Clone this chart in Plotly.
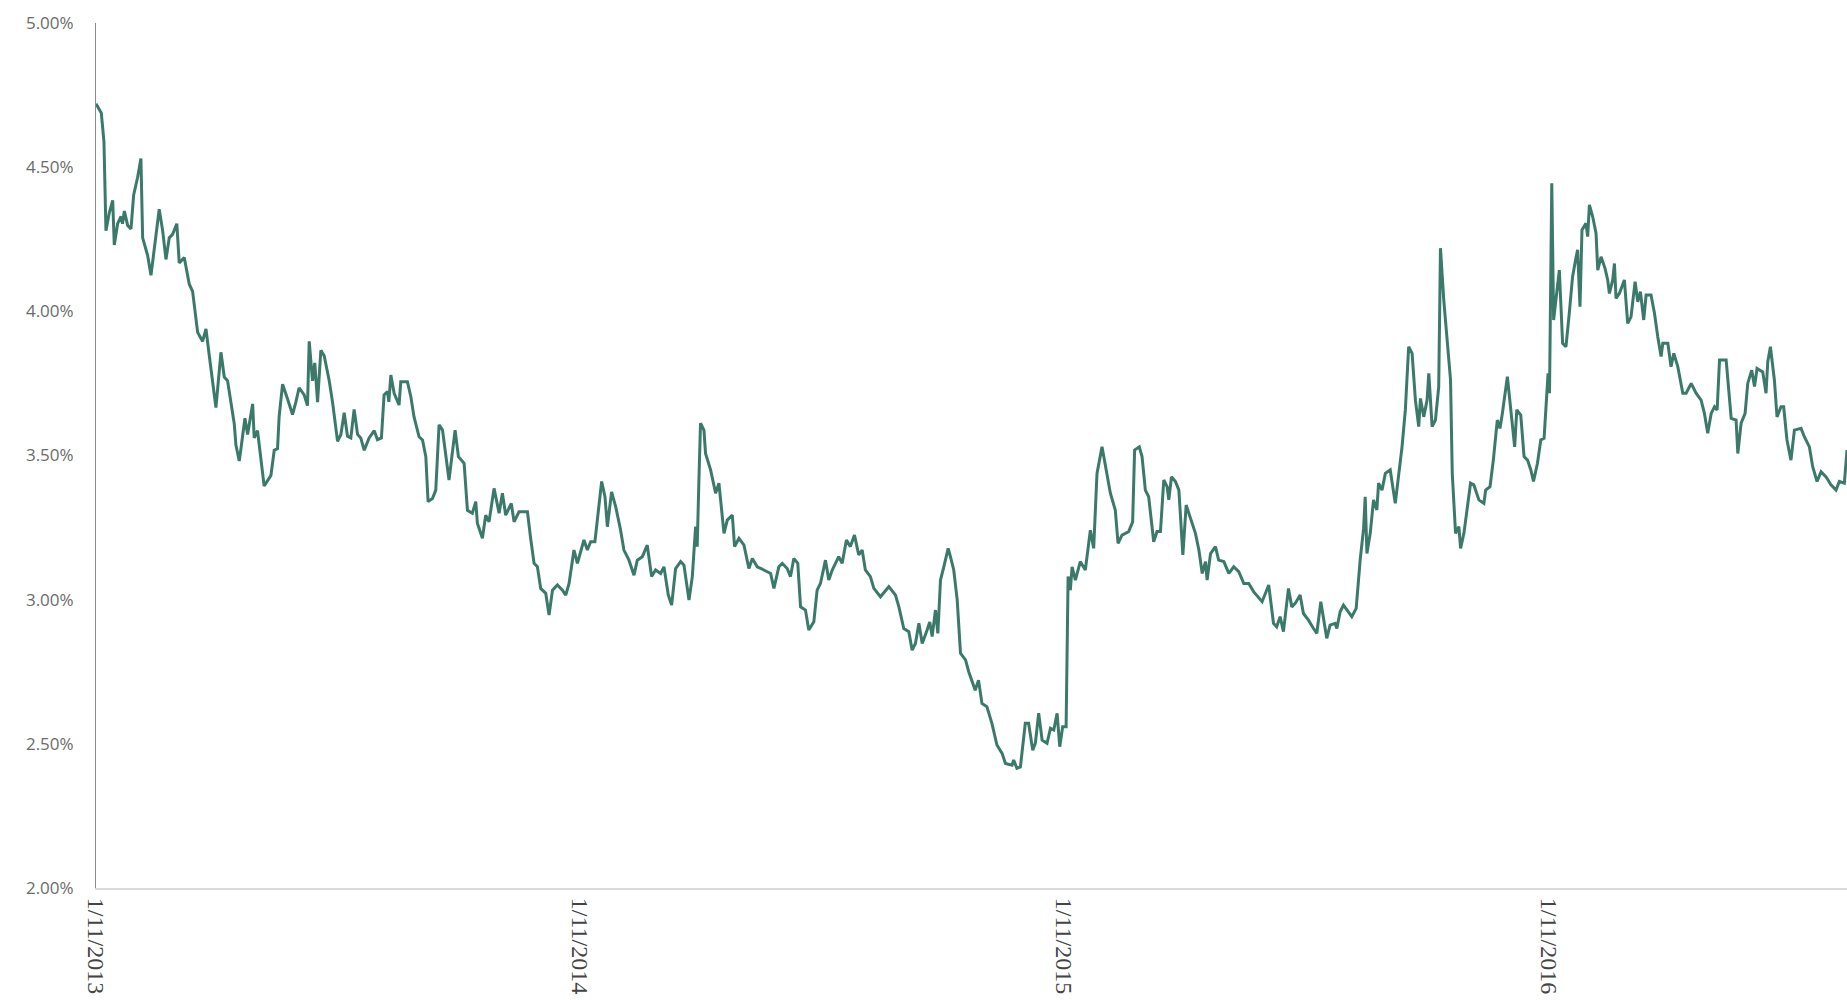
import pandas as pd
import plotly.graph_objects as go

# Dates are stored as day offsets from the first tick date (1/11/2013)
start_date = "2013-11-01"

days = [
    0, 4, 6, 7.5, 10, 12.6, 13.8, 16.3, 18.9, 20, 21.4, 23.9, 26.4, 28.4, 31.4, 33.9, 35.2, 39, 41.5, 45.2,
    47.7, 50.3, 52.8, 55.3, 57.8, 61, 62.8, 66.6, 70.4, 72.9, 76.7, 80.4, 83, 85.5, 90.5, 94.3, 96.8, 99.3,
    104.3, 105.6, 108.1, 109.4, 112.4, 114.4, 118.2, 119.4, 121.9, 126.9, 132, 134.5, 137, 138.2, 140.8,
    144.5, 148.3, 150.8, 153.3, 157.1, 159.6, 160.9, 163.4, 165.1, 167.2, 169.7, 172.2, 176, 178.5, 182.3,
    184.8, 187.3, 189.8, 192.3, 194.8, 197.4, 199.8, 202.4, 206.1, 210, 212.4, 215.4, 217.4, 220,
    221, 222.5, 225, 228.7, 230, 235, 237.6, 240, 243.8, 246.4, 248.9, 250.6, 253.9, 256.4, 258.9, 261.5,
    266.4, 271, 273.5, 277.8, 280.3, 284, 286.6, 287.8, 291.6, 294.1, 296.6, 300.4, 304.2, 306.7, 309.2,
    313.4, 315.5, 319.2, 325.6, 328, 330.6, 333.1, 335.6, 339.4, 341.9, 344.5, 348.2, 352, 354.5, 357,
    360.7, 363.3, 365.8, 368.2, 370.8, 373.3, 376.5, 379.6, 381.6, 384.1, 385.9, 389.1, 392.2, 395.9,
    398.4, 402.2, 406, 408.5, 412.3, 416, 419.3, 422.3, 426.1, 428.6, 431.9, 434.4, 437.4,
    441.2, 443.7, 447.5, 450, 452.5, 453.7, 455, 456.2, 458.8, 460, 463.8, 467.6, 470.1, 473.9, 476.4,
    480.2, 481.9, 485.2, 489, 492.7, 495.3, 499, 504, 509.1, 511.6, 515.3, 517.9, 521.6, 524.1, 526.6,
    529.6, 531.7, 535.4, 537.9, 541.7, 544.2, 546.7, 550.5, 553, 555.6, 560.5, 563.1, 566.3, 569.3,
    572.4, 575.6, 578.2, 580.6, 584.4, 587, 592, 598.3, 603.3, 605.9, 609.6, 613.4, 615.9, 618.4, 621,
    623.5, 627.2, 629.2, 631, 633.5, 635.3, 637.3, 639.8, 643.1, 644.8, 647.3, 649.9, 652.4, 656.2, 658.6,
    663.5, 666, 668.6, 672.3, 676.1, 679.9, 683.8, 686.3, 691.3, 692.5, 695, 697.6, 701.3, 703.8, 706.9,
    708.9, 711.4, 714, 717.7, 720.3, 722.8, 725.3, 727.3, 729.5, 732.1, 733.6, 735.3, 736.6, 739.1,
    742.8, 746.6, 750.4, 752.9, 755.4, 759.2, 763, 765.5, 769.2, 771.3, 774.3, 779.3, 782.3, 783.8,
    787.3, 789.4, 791.9, 794.4, 798.2, 800.7, 803.3, 805.8, 808.3, 809.6, 811.6, 814.6, 817.2, 820.2,
    822.7, 824.7, 827.3, 829.7, 832.3, 834.8, 837.3, 838.5, 841.1, 844.8, 847.2, 851.1, 854.9, 858.6,
    862.4, 866.2, 869.9, 873.7, 880, 885,
    888.6, 891, 893.6, 896.1, 899.9, 902.4, 905, 908.7, 911.2, 915, 918.8, 921.3, 924.3, 926.3, 928.8,
    931.3, 935.1, 936.4, 938.9, 941.4, 944, 947.7, 951, 954, 956.6, 957.8, 959.1, 961.6, 964.1, 966.6,
    967.9, 970.5, 973, 976.7, 980.5, 983, 985.6, 988.1, 990.6, 993.2, 995.7, 998.2, 999.5, 1002, 1004.5,
    1005.8, 1008.3, 1010.8, 1013.3, 1014.6, 1017.1, 1022.2, 1023.5, 1026, 1028.5, 1029.8, 1032.3, 1037.3,
    1039.8, 1043.6, 1047.4, 1048.7, 1052, 1054.5, 1057.5, 1059.5, 1061.3, 1065.1, 1067.6, 1070.6, 1072.2,
    1075.2, 1077.7, 1080.3, 1082.8, 1084.8, 1087.8, 1090.3, 1092.8, 1094.1, 1095.8,
    1096.9, 1098.6, 1100, 1101.8, 1104.3, 1106.8, 1109.3, 1111.8, 1114.3, 1116.8, 1118.1, 1119.9, 1121.4,
    1124.4, 1125.7, 1127, 1129.5, 1132, 1133.3, 1135.8, 1138.8, 1140.8, 1142.1, 1144.6, 1145.9, 1147.1,
    1149.6, 1153.4, 1155.9, 1158.4, 1161.5, 1163.5, 1165.5, 1168, 1169.8, 1173.5, 1176.1, 1178.6, 1181.1,
    1182.4, 1186.2, 1188.6, 1190.7, 1193.7, 1197.5, 1200, 1203.8, 1207.5, 1211.3, 1213.8, 1216.3, 1218.9,
    1221.4, 1223.4, 1225.2, 1230.2, 1232.7, 1234, 1237.7, 1239, 1241.5, 1244.5, 1246.5, 1249.5, 1251.6,
    1253.5, 1257.8, 1260.3, 1261.6, 1263.6, 1266.6, 1268.6, 1271.6, 1273.6, 1276.1, 1279.1, 1281.7,
    1286.7, 1289.2, 1293, 1295.5, 1298.8, 1301.8, 1305.6, 1309.3, 1313.1, 1315.6, 1319.4, 1321.4,
]

yields = [
    4.72, 4.688, 4.589, 4.280, 4.341, 4.385, 4.230, 4.304, 4.329, 4.304, 4.348, 4.298, 4.286, 4.403, 4.465,
    4.530, 4.255, 4.193, 4.125, 4.255, 4.354, 4.280, 4.180, 4.255, 4.267, 4.304, 4.168, 4.187, 4.094, 4.069,
    3.927, 3.896, 3.939, 3.846, 3.666, 3.858, 3.772, 3.759, 3.611, 3.536, 3.481, 3.524, 3.629, 3.573, 3.679,
    3.561, 3.586, 3.394, 3.431, 3.518, 3.524, 3.635, 3.747, 3.697, 3.642, 3.685, 3.735, 3.710, 3.673, 3.896,
    3.759, 3.821, 3.685, 3.865, 3.846, 3.759, 3.685, 3.549, 3.573, 3.648, 3.567, 3.561, 3.660, 3.573, 3.561,
    3.518, 3.561, 3.586, 3.555, 3.561, 3.710, 3.722,
    3.686, 3.779, 3.716, 3.675, 3.756, 3.756, 3.704, 3.634, 3.565, 3.554, 3.496, 3.34, 3.351, 3.38, 3.606,
    3.588, 3.415, 3.588, 3.496, 3.473, 3.31, 3.30, 3.34, 3.265, 3.213, 3.293, 3.27, 3.386, 3.30, 3.369,
    3.293, 3.334, 3.27, 3.305, 3.305, 3.213, 3.126, 3.114, 3.039, 3.022, 2.947, 3.033, 3.051, 3.033, 3.016,
    3.056, 3.172, 3.126, 3.172, 3.207, 3.172, 3.201, 3.201, 3.322, 3.41, 3.357, 3.253, 3.374, 3.322, 3.241,
    3.172, 3.137, 3.085, 3.137, 3.149, 3.189, 3.08, 3.103, 3.091, 3.114, 3.016, 2.981, 3.108,
    3.132, 3.12, 2.999, 3.08, 3.253, 3.184, 3.415, 3.612, 3.588, 3.507, 3.45, 3.369, 3.404, 3.23, 3.276,
    3.293, 3.184, 3.213, 3.189, 3.108, 3.143, 3.114, 3.103, 3.091, 3.039, 3.114, 3.126, 3.108, 3.08, 3.143,
    3.126, 2.975, 2.964, 2.895, 2.923, 3.033, 3.056, 3.137, 3.068, 3.103, 3.149, 3.126, 3.207, 3.184,
    3.224, 3.155, 3.172, 3.103, 3.08, 3.039, 3.01, 3.045, 3.016, 2.975, 2.90, 2.889, 2.825, 2.848, 2.918,
    2.848, 2.895, 2.923, 2.872, 2.964, 2.883, 3.068, 3.114, 3.178, 3.149, 3.103, 2.999, 2.814, 2.791, 2.75,
    2.686, 2.721, 2.64, 2.629, 2.571, 2.496, 2.467, 2.432, 2.426, 2.444, 2.415, 2.42, 2.571, 2.571, 2.478,
    2.502, 2.606, 2.513, 2.502, 2.554, 2.548, 2.606, 2.49, 2.559, 2.559, 3.08, 3.033, 3.114, 3.068,
    3.132, 3.103, 3.241, 3.178, 3.438, 3.53, 3.426, 3.369, 3.311, 3.195, 3.224, 3.236, 3.27, 3.519,
    3.53, 3.496, 3.38, 3.357, 3.201, 3.236, 3.236, 3.415, 3.392, 3.346, 3.426, 3.41, 3.38, 3.155,
    3.328, 3.30, 3.27, 3.23, 3.172, 3.091, 3.132, 3.068, 3.16, 3.184, 3.137, 3.132, 3.091, 3.114,
    3.097, 3.056, 3.056, 3.027, 2.993, 3.051,
    2.918, 2.906, 2.941, 2.889, 3.039, 2.975, 2.987, 3.016, 2.952, 2.929, 2.90, 2.883, 2.993, 2.941, 2.866,
    2.912, 2.918, 2.90, 2.958, 2.981, 2.964, 2.941, 2.97, 3.137, 3.247, 3.357, 3.16, 3.23, 3.346, 3.311,
    3.404, 3.38, 3.438, 3.45, 3.334, 3.438, 3.53, 3.658, 3.877, 3.854, 3.692, 3.60, 3.698, 3.634, 3.692,
    3.785, 3.60, 3.623, 3.739, 4.219, 4.039, 3.762, 3.438, 3.23, 3.253, 3.178, 3.23, 3.404,
    3.398, 3.346, 3.334, 3.38, 3.392, 3.484, 3.623, 3.594, 3.646, 3.773, 3.669, 3.53, 3.658,
    3.64, 3.496, 3.484, 3.45, 3.41, 3.473, 3.554, 3.56, 3.646, 3.785,
    3.716, 4.444, 3.97, 4.051, 4.143, 3.889, 3.877, 3.993, 4.12, 4.184, 4.213, 4.016, 4.282,
    4.305, 4.259, 4.369, 4.328, 4.271, 4.143, 4.189, 4.149, 4.109, 4.062, 4.109, 4.166, 4.045,
    4.062, 4.109, 3.958, 3.981, 4.103, 4.033, 4.068, 3.97, 4.057, 4.057, 3.993, 3.912, 3.843,
    3.889, 3.889, 3.808, 3.854, 3.808, 3.716, 3.716, 3.75, 3.716, 3.692, 3.646, 3.577, 3.646,
    3.669, 3.658, 3.831, 3.831, 3.704, 3.629, 3.623, 3.507, 3.612, 3.646, 3.75, 3.796, 3.739,
    3.802, 3.79, 3.716, 3.825, 3.877, 3.762, 3.634, 3.669, 3.669, 3.554, 3.484, 3.588,
    3.594, 3.565, 3.53, 3.461, 3.41, 3.444, 3.426, 3.398, 3.38, 3.41, 3.404, 3.519,
]

tick_dates = ["2013-11-01", "2014-11-01", "2015-11-01", "2016-11-01"]
tick_labels = ["1/11/2013", "1/11/2014", "1/11/2015", "1/11/2016"]
y_ticks = [2.0, 2.5, 3.0, 3.5, 4.0, 4.5, 5.0]
y_tick_labels = ["2.00%", "2.50%", "3.00%", "3.50%", "4.00%", "4.50%", "5.00%"]

base = pd.Timestamp(start_date)
x_dates = [base + pd.to_timedelta(d, unit="D") for d in days]
x_end = base + pd.to_timedelta(days[-1], unit="D")

fig = go.Figure()
fig.add_trace(go.Scatter(
    x=x_dates, y=yields, mode="lines",
    line=dict(color="#3b7a6b", width=3),
    hoverinfo="x+y", showlegend=False,
))

fig.update_layout(
    width=1847, height=1000,
    margin=dict(l=96, r=0, t=23, b=112, autoexpand=False),
    paper_bgcolor="white", plot_bgcolor="white",
    showlegend=False,
)
fig.update_xaxes(
    type="date",
    range=[base, x_end],
    tickmode="array", tickvals=tick_dates, ticktext=tick_labels,
    tickangle=90,
    tickfont=dict(family="Liberation Serif", size=24, color="#444444"),
    showgrid=False, zeroline=False,
    showline=True, linecolor="#d9d9d9", linewidth=2,
    ticks="", ticklabelstandoff=3,
    automargin=False,
)
fig.update_yaxes(
    range=[2.0, 5.0],
    tickmode="array", tickvals=y_ticks, ticktext=y_tick_labels,
    tickfont=dict(family="Open Sans", size=17, color="#6b6b6b"),
    showgrid=False, zeroline=False,
    showline=True, linecolor="#8c8c8c", linewidth=1,
    ticks="", ticklabelstandoff=18,
    automargin=False,
)

# remove the default page margin so the figure fills the window exactly
fig.write_html(
    "out.html",
    config={"displayModeBar": False},
    post_script="document.body.style.margin='0';document.documentElement.style.overflow='hidden';",
)
